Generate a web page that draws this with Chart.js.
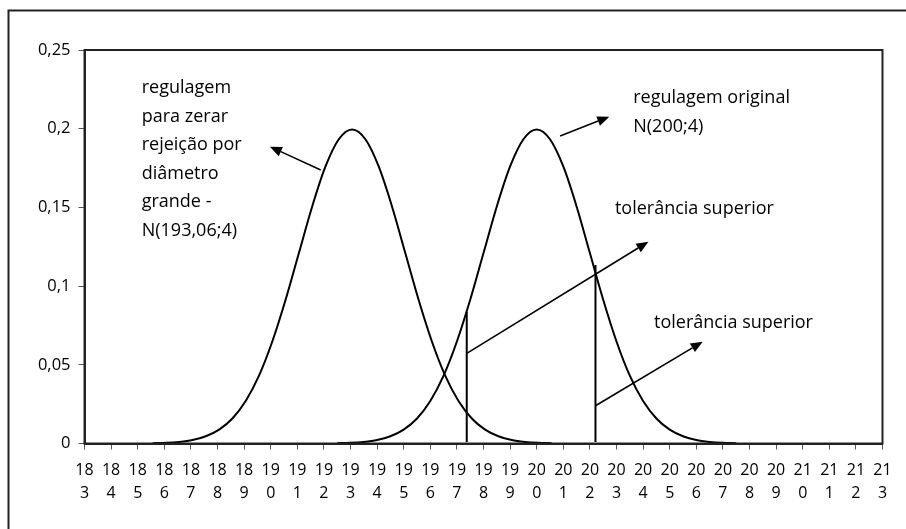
<!DOCTYPE html>
<html>
<head>
<meta charset="utf-8">
<script src="https://cdn.jsdelivr.net/npm/chart.js@4"></script>
<style>
  html, body { margin: 0; padding: 0; background: #fff; }
</style>
</head>
<body>
<canvas id="normalChart" width="906" height="529"></canvas>
<script>
const xTickLabels = ['183', '184', '185', '186', '187', '188', '189', '190', '191', '192', '193', '194', '195', '196', '197', '198',
  '199', '200', '201', '202', '203', '204', '205', '206', '207', '208', '209', '210', '211', '212', '213'];

// N(193,06;4) - regulagem para zerar rejeição
const xAjustado = [185.56, 186.06, 186.56, 187.06, 187.56, 188.06, 188.56, 189.06, 189.56, 190.06, 190.56, 191.06, 191.56, 192.06, 192.56,
  193.06, 193.56, 194.06, 194.56, 195.06, 195.56, 196.06, 196.56, 197.06, 197.56, 198.06, 198.56, 199.06, 199.56, 200.06, 200.56];
const yAjustado = [0.0002, 0.0004, 0.0010, 0.0022, 0.0046, 0.0088, 0.0159, 0.0270, 0.0431, 0.0648, 0.0913, 0.1210, 0.1506, 0.1760, 0.1933,
  0.1995, 0.1933, 0.1760, 0.1506, 0.1210, 0.0913, 0.0648, 0.0431, 0.0270, 0.0159, 0.0088, 0.0046, 0.0022, 0.0010, 0.0004, 0.0002];

// N(200;4) - regulagem original
const xOriginal = [192.5, 193, 193.5, 194, 194.5, 195, 195.5, 196, 196.5, 197, 197.5, 198, 198.5, 199, 199.5,
  200, 200.5, 201, 201.5, 202, 202.5, 203, 203.5, 204, 204.5, 205, 205.5, 206, 206.5, 207, 207.5];
const yOriginal = [0.0002, 0.0004, 0.0010, 0.0022, 0.0046, 0.0088, 0.0159, 0.0270, 0.0431, 0.0648, 0.0913, 0.1210, 0.1506, 0.1760, 0.1933,
  0.1995, 0.1933, 0.1760, 0.1506, 0.1210, 0.0913, 0.0648, 0.0431, 0.0270, 0.0159, 0.0088, 0.0046, 0.0022, 0.0010, 0.0004, 0.0002];

// tolerância superior (linhas verticais)
const tolX = [197.37, 202.21];
const tolTop = [0.0837, 0.1134];

const notes = [
  { lines: ['regulagem', 'para zerar', 'rejeição por', 'diâmetro', 'grande -', 'N(193,06;4)'], x: 185.15, y: 0.2257 },
  { lines: ['regulagem original', 'N(200;4)'], x: 203.63, y: 0.2193 },
  { lines: ['tolerância superior'], x: 202.94, y: 0.1488 },
  { lines: ['tolerância superior'], x: 204.41, y: 0.0766 }
];
const arrows = [
  { from: [191.88, 0.1738], to: [189.97, 0.1886] },
  { from: [200.88, 0.1954], to: [202.73, 0.2076] },
  { from: [197.37, 0.0573], to: [204.20, 0.1282] },
  { from: [202.21, 0.0240], to: [206.24, 0.0647] }
];

const FONT = '"Open Sans", "DejaVu Sans", sans-serif';
const INK = '#000';

const toPoints = (xs, ys) => xs.map((x, i) => ({ x: x, y: ys[i] }));

const curveStyle = {
  borderColor: INK,
  borderWidth: 2,
  pointRadius: 0,
  fill: false,
  cubicInterpolationMode: 'monotone'
};

const tolSets = tolX.map((x, i) => ({
  data: [{ x: x, y: 0.001 }, { x: x, y: tolTop[i] }],
  borderColor: INK,
  borderWidth: 2,
  pointRadius: 0,
  fill: false
}));

const extras = {
  id: 'extras',
  beforeDraw(chart) {
    const c = chart.ctx;
    c.save();
    c.strokeStyle = '#222';
    c.lineWidth = 2;
    c.strokeRect(8.5, 10.5, chart.width + 20, chart.height + 20);
    c.restore();
  },
  afterDraw(chart) {
    const c = chart.ctx;
    const xs = chart.scales.x, ys = chart.scales.y;
    const a = chart.chartArea;
    c.save();
    // moldura da área do gráfico
    c.strokeStyle = '#222';
    c.lineWidth = 2;
    c.strokeRect(a.left, a.top, a.right - a.left, a.bottom - a.top);

    // setas
    c.strokeStyle = INK;
    c.fillStyle = INK;
    c.lineWidth = 1.6;
    arrows.forEach((ar) => {
      const x1 = xs.getPixelForValue(ar.from[0]), y1 = ys.getPixelForValue(ar.from[1]);
      const x2 = xs.getPixelForValue(ar.to[0]), y2 = ys.getPixelForValue(ar.to[1]);
      const ang = Math.atan2(y2 - y1, x2 - x1);
      const len = 12, half = 5;
      const bx = x2 - len * Math.cos(ang), by = y2 - len * Math.sin(ang);
      c.beginPath();
      c.moveTo(x1, y1);
      c.lineTo(bx, by);
      c.stroke();
      c.beginPath();
      c.moveTo(x2, y2);
      c.lineTo(bx + half * Math.sin(ang), by - half * Math.cos(ang));
      c.lineTo(bx - half * Math.sin(ang), by + half * Math.cos(ang));
      c.closePath();
      c.fill();
    });

    // textos
    c.font = '18px ' + FONT;
    c.textAlign = 'left';
    c.textBaseline = 'middle';
    notes.forEach((n) => {
      const px = xs.getPixelForValue(n.x), py = ys.getPixelForValue(n.y);
      n.lines.forEach((t, i) => c.fillText(t, px, py + i * 28.5));
    });
    c.restore();
  }
};

new Chart(document.getElementById('normalChart'), {
  type: 'line',
  data: {
    datasets: [
      Object.assign({ data: toPoints(xAjustado, yAjustado) }, curveStyle),
      Object.assign({ data: toPoints(xOriginal, yOriginal) }, curveStyle),
      ...tolSets
    ]
  },
  options: {
    responsive: false,
    animation: false,
    devicePixelRatio: 1,
    layout: { padding: { top: 50, right: 23.5, left: 0, bottom: 0 } },
    plugins: {
      legend: { display: false },
      tooltip: { enabled: false },
      title: { display: false }
    },
    scales: {
      x: {
        type: 'linear',
        min: 183,
        max: 213,
        afterFit: (s) => { s.height = 85.5; },
        afterBuildTicks: (s) => { s.ticks = xTickLabels.map((t) => ({ value: Number(t) })); },
        grid: { drawOnChartArea: false, drawTicks: true, tickLength: 6, color: '#555' },
        border: { display: true, color: '#222', width: 2 },
        ticks: {
          autoSkip: false,
          maxRotation: 0,
          padding: 10,
          color: '#000',
          font: { family: FONT, size: 16, lineHeight: 1.4 },
          callback: (v, i) => [xTickLabels[i].slice(0, 2), xTickLabels[i].slice(2)]
        }
      },
      y: {
        min: 0,
        max: 0.25,
        afterFit: (s) => { s.width = 84.5; },
        grid: { drawOnChartArea: false, drawTicks: true, tickLength: 6, color: '#555' },
        border: { display: true, color: '#222', width: 2 },
        ticks: {
          stepSize: 0.05,
          padding: 8,
          color: '#000',
          font: { family: FONT, size: 16.5 },
          callback: (v) => String(Number(v.toFixed(2))).replace('.', ',')
        }
      }
    }
  },
  plugins: [extras]
});
</script>
</body>
</html>
